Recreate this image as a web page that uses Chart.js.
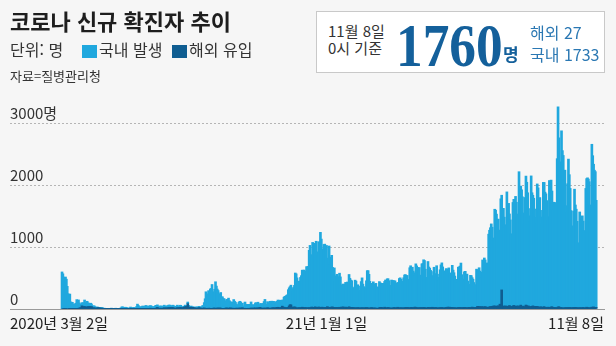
<!DOCTYPE html>
<html lang="ko">
<head>
<meta charset="utf-8">
<script src="https://cdn.jsdelivr.net/npm/chart.js@4.4.1/dist/chart.umd.min.js"></script>
<style>
  html, body { margin: 0; padding: 0; background: #f6f6f6; }
  body { width: 616px; height: 346px; position: relative; overflow: hidden;
         font-family: 'Noto Sans CJK KR', 'Noto Sans', sans-serif; color: #222; }
  #chart { position: absolute; left: 0; top: 0; }
  .abs { position: absolute; white-space: nowrap; line-height: 1; }
  .title { left: 10px; top: 9px; font-size: 22px; font-weight: 700; color: #1e1e1e; }
  .unit { left: 10px; top: 41px; font-size: 16px; color: #333; }
  .sw { position: absolute; width: 15px; height: 13px; }
  .src { left: 10px; top: 69px; font-size: 13px; color: #333; }
  .box { position: absolute; left: 316px; top: 11px; width: 289px; height: 62px;
         background: #fff; border: 1px solid #c9c9c9; box-sizing: border-box; }
  .when { font-size: 15px; color: #333; }
  .big { font-family: 'Liberation Serif', 'DejaVu Serif', serif; font-weight: 700;
         font-size: 62px; color: #14609b; transform: scaleX(0.86); transform-origin: left top; }
  .myeong { font-size: 17px; font-weight: 700; color: #14609b; }
  .split { font-size: 16px; color: #2b78b3; }
</style>
</head>
<body>
<canvas id="chart" width="616" height="346"></canvas>

<div class="abs title">코로나 신규 확진자 추이</div>
<div class="abs unit">단위: 명</div>
<div class="sw" style="left:82px; top:45px; background:#20a8de;"></div>
<div class="abs unit" style="left:99px;">국내 발생</div>
<div class="sw" style="left:172px; top:45px; background:#0f5d91;"></div>
<div class="abs unit" style="left:189px;">해외 유입</div>
<div class="abs src">자료=질병관리청</div>

<div class="box"></div>
<div class="abs when" style="left:328px; top:23px;">11월 8일</div>
<div class="abs when" style="left:328px; top:40px;">0시 기준</div>
<div class="abs big" style="left:396px; top:14px;">1760</div>
<div class="abs myeong" style="left:503px; top:45px;">명</div>
<div class="abs split" style="left:530px; top:24px;">해외 27</div>
<div class="abs split" style="left:530px; top:46px;">국내 1733</div>

<script>
// daily figures from 2020-03-02 to 2021-11-08 (0시 기준)
const startDate = '2020-03-02';

const domestic = [
  // 2020-03
  600,570,515,438,517,483,367,248,130,240,111,106,105,71,69,78,87,144,77,135,84,45,56,49,83,52,105,82,50,89,
  // 2020-04
  65,51,46,64,41,31,32,33,24,16,14,14,5,8,17,9,8,8,4,5,4,6,2,3,5,6,6,3,2,0,
  // 2020-05
  3,3,8,3,2,0,2,10,17,26,29,21,22,26,22,14,7,13,5,20,3,13,16,24,15,15,38,68,49,35,21,
  // 2020-06
  30,33,41,37,35,40,49,34,36,43,41,43,41,31,34,27,39,51,32,41,37,9,31,40,19,25,38,43,30,25,
  // 2020-07
  36,36,44,43,44,24,24,39,35,36,21,30,41,18,19,39,39,23,14,9,14,28,19,15,27,25,10,12,18,4,9,
  // 2020-08
  12,15,8,21,23,4,22,20,15,28,40,47,85,155,267,188,235,283,283,312,325,387,258,264,306,434,359,308,283,238,218,
  // 2020-09
  253,188,188,157,158,108,119,142,142,162,126,102,98,91,106,145,113,106,70,55,54,99,106,104,51,73,40,30,101,67,
  // 2020-10
  52,67,52,64,64,97,57,48,54,46,82,88,70,91,39,47,71,62,47,76,108,140,65,47,99,73,91,112,103,108,108,
  // 2020-11
  105,78,64,97,99,117,68,125,109,75,100,113,162,191,183,205,222,285,293,293,320,300,255,318,349,553,553,486,438,414,
  // 2020-12
  438,493,516,600,559,615,591,574,669,662,673,928,1012,694,848,1054,988,1040,1012,1071,904,841,1059,956,1217,1105,940,787,1023,1025,947,
  // 2021-01
  1007,786,641,992,693,812,838,641,616,641,433,512,537,504,487,552,500,359,359,369,381,324,400,365,418,328,523,484,442,431,339,
  // 2021-02
  280,319,451,431,353,371,353,270,292,424,484,387,345,305,331,434,600,604,547,436,395,311,344,420,385,388,400,344,
  // 2021-03
  345,328,425,398,371,392,405,330,417,456,451,466,466,439,366,350,453,430,446,428,441,396,330,400,413,475,487,462,366,429,489,
  // 2021-04
  533,534,519,519,449,461,653,676,646,660,594,565,511,705,678,661,635,655,512,526,716,711,775,761,624,488,496,743,657,642,
  // 2021-05
  607,579,460,518,661,552,501,683,547,450,490,615,694,722,662,594,604,508,629,624,530,647,556,503,495,682,608,569,511,466,415,
  // 2021-06
  439,655,658,671,724,537,463,434,578,587,534,552,432,372,350,523,519,476,456,404,334,368,622,569,591,636,575,473,557,762,
  // 2021-07
  729,795,756,711,683,721,1183,1240,1277,1344,1280,1067,1098,1571,1554,1490,1420,1401,1211,1200,1726,1533,1599,1580,1448,1270,1318,1853,1629,1677,1482,
  // 2021-08
  1400,1184,1162,1677,1718,1660,1784,1679,1461,1488,2177,1945,1927,1887,1779,1509,1344,1769,2088,1999,1837,1577,1387,1479,2114,1841,1790,1753,1577,1447,1331,
  // 2021-09
  1983,1925,1685,1773,1456,1343,1569,2023,2010,1869,1841,1732,1403,1476,2057,1980,2056,1873,1580,1706,1698,1693,1706,2413,3241,2734,2364,2265,2865,2547,
  // 2021-10
  2469,2070,2227,1651,1559,2004,2407,2156,1929,1576,1282,1324,1562,1921,1658,1594,1401,1031,1057,1550,1420,1425,1489,1399,1250,1250,1933,2082,2104,2082,2045,
  // 2021-11
  1671,1566,2637,2456,2310,2232,2200,1733
];

const imported = [
  // 2020-03
  0,0,1,0,1,0,0,0,1,2,3,4,2,5,5,6,6,8,10,12,14,19,20,51,21,39,41,23,28,36,
  // 2020-04
  36,38,40,30,40,16,15,20,15,11,16,18,20,19,10,13,14,10,4,8,5,5,6,3,5,4,4,11,7,4,
  // 2020-05
  6,3,5,5,1,2,2,2,1,8,6,6,4,3,5,5,6,2,8,12,9,7,7,1,1,4,2,11,9,4,6,
  // 2020-06
  5,5,8,2,4,11,8,4,2,7,4,13,7,3,3,7,4,8,17,26,11,8,15,11,9,14,13,19,12,18,
  // 2020-07
  15,18,19,20,17,24,20,23,15,9,14,14,21,15,20,22,21,16,20,17,31,35,40,26,86,33,15,16,30,14,27,
  // 2020-08
  19,15,15,13,10,16,21,16,13,6,14,9,18,11,12,9,11,14,5,12,7,10,8,16,14,7,12,15,16,10,17,
  // 2020-09
  14,7,10,11,9,11,17,14,13,14,10,19,11,15,7,8,13,4,12,15,7,11,19,10,10,22,10,8,12,10,
  // 2020-10
  11,8,12,9,11,17,12,6,18,12,16,14,14,19,8,26,20,14,11,15,13,15,12,14,20,15,12,13,11,19,16,
  // 2020-11
  19,19,11,21,26,28,21,18,17,25,46,30,29,14,25,18,8,28,50,70,66,30,16,31,33,30,16,18,12,24,
  // 2020-12
  13,18,24,29,24,16,24,20,17,20,16,22,18,24,32,24,26,24,35,26,22,28,31,29,24,27,30,20,22,25,20,
  // 2021-01
  22,38,16,28,22,28,31,33,25,24,18,25,25,20,26,28,20,30,27,35,20,22,31,27,19,21,36,13,27,27,16,
  // 2021-02
  25,17,16,20,17,22,19,19,11,20,20,16,17,21,13,23,21,17,14,12,21,21,13,20,11,18,15,11,
  // 2021-03
  11,16,19,26,27,24,11,16,29,14,14,22,24,20,16,13,16,15,17,24,15,19,16,28,17,19,18,20,16,18,17,
  // 2021-04
  18,23,24,24,24,17,15,24,25,17,20,22,31,26,20,12,23,17,20,23,15,24,22,24,20,11,16,26,23,19,
  // 2021-05
  20,27,28,23,15,22,24,18,17,13,21,20,21,25,19,16,15,20,25,22,31,19,29,27,21,25,21,18,22,14,15,
  // 2021-06
  20,22,23,24,20,19,22,20,24,23,22,13,20,27,23,22,21,31,26,25,23,27,23,41,43,32,39,28,38,32,
  // 2021-07
  33,31,38,32,28,25,29,35,39,34,44,33,52,44,46,46,35,53,41,78,58,309,31,49,39,48,47,43,45,33,57,
  // 2021-08
  42,35,40,48,58,44,39,49,31,49,46,42,63,43,37,47,29,36,64,53,45,49,31,30,41,41,51,40,42,40,41,
  // 2021-09
  42,36,24,31,34,32,28,27,39,23,24,23,30,21,23,28,31,37,24,23,22,23,14,21,32,37,19,24,20,17,
  // 2021-10
  17,16,21,22,16,24,20,19,24,18,15,23,22,19,26,22,19,19,16,21,20,16,19,24,16,16,19,29,20,22,16,
  // 2021-11
  15,23,30,26,34,15,24,27
];

const yTicks = [0, 1000, 2000, 3000];
const xTickDays = [-60, 305, 625];
const xTickLabels = ['2020년 3월 2일', '21년 1월 1일', '11월 8일'];

const COLOR_DOMESTIC = '#20a8de';
const COLOR_IMPORTED = '#0f5d91';

// day offsets from startDate, used as x positions
const days = domestic.map((_, i) => i);

new Chart(document.getElementById('chart'), {
    type: 'bar',
    data: {
        labels: days,
        datasets: [
            {
                label: '해외 유입',
                data: imported,
                backgroundColor: COLOR_IMPORTED,
                borderWidth: 0,
                barThickness: 2
            },
            {
                label: '국내 발생',
                data: domestic,
                backgroundColor: COLOR_DOMESTIC,
                borderWidth: 0,
                barThickness: 2
            }
        ]
    },
    options: {
        responsive: false,
        animation: false,
        events: [],
        layout: { padding: { left: 10, right: 12, top: 99, bottom: 9 } },
        plugins: {
            legend: { display: false },
            tooltip: { enabled: false }
        },
        scales: {
            x: {
                type: 'linear',
                stacked: true,
                min: -60,
                max: 625,
                offset: false,
                grid: { display: false, drawTicks: false },
                border: { display: true, color: '#9a9a9a', width: 1 },
                afterBuildTicks: scale => {
                    scale.ticks = xTickDays.map(v => ({ value: v }));
                },
                ticks: {
                    align: 'inner',
                    maxRotation: 0,
                    autoSkip: false,
                    padding: 5,
                    color: '#222',
                    font: { family: "'Noto Sans CJK KR', sans-serif", size: 15 },
                    callback: (value, i) => xTickLabels[i]
                }
            },
            y: {
                stacked: true,
                min: 0,
                max: 3400,
                afterBuildTicks: scale => {
                    scale.ticks = yTicks.map(v => ({ value: v }));
                },
                grid: {
                    drawTicks: false,
                    color: ctx => ctx.tick && ctx.tick.value === 0 ? 'rgba(0,0,0,0)' : '#b5b5b5'
                },
                border: { display: false, dash: [2, 2] },
                ticks: {
                    mirror: true,
                    padding: 0,
                    labelOffset: -10,
                    color: '#333',
                    font: { family: "'Noto Sans CJK KR', sans-serif", size: 15 },
                    callback: v => v === 3000 ? v + '명' : String(v)
                }
            }
        }
    }
});
</script>
</body>
</html>
